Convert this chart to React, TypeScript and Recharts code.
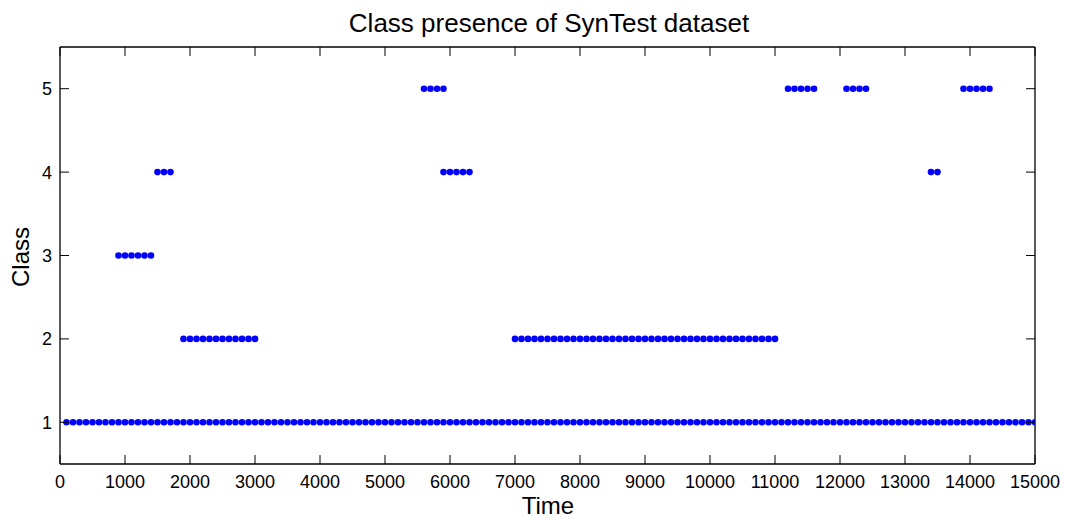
import React from 'react';
import { ScatterChart, Scatter, XAxis, YAxis } from 'recharts';

// Sample times (every 100 time units) at which each class is present
const class1Times = [
  100, 200, 300, 400, 500, 600, 700, 800, 900, 1000,
  1100, 1200, 1300, 1400, 1500, 1600, 1700, 1800, 1900, 2000,
  2100, 2200, 2300, 2400, 2500, 2600, 2700, 2800, 2900, 3000,
  3100, 3200, 3300, 3400, 3500, 3600, 3700, 3800, 3900, 4000,
  4100, 4200, 4300, 4400, 4500, 4600, 4700, 4800, 4900, 5000,
  5100, 5200, 5300, 5400, 5500, 5600, 5700, 5800, 5900, 6000,
  6100, 6200, 6300, 6400, 6500, 6600, 6700, 6800, 6900, 7000,
  7100, 7200, 7300, 7400, 7500, 7600, 7700, 7800, 7900, 8000,
  8100, 8200, 8300, 8400, 8500, 8600, 8700, 8800, 8900, 9000,
  9100, 9200, 9300, 9400, 9500, 9600, 9700, 9800, 9900, 10000,
  10100, 10200, 10300, 10400, 10500, 10600, 10700, 10800, 10900, 11000,
  11100, 11200, 11300, 11400, 11500, 11600, 11700, 11800, 11900, 12000,
  12100, 12200, 12300, 12400, 12500, 12600, 12700, 12800, 12900, 13000,
  13100, 13200, 13300, 13400, 13500, 13600, 13700, 13800, 13900, 14000,
  14100, 14200, 14300, 14400, 14500, 14600, 14700, 14800, 14900, 15000,
];
const class2Times = [
  1900, 2000, 2100, 2200, 2300, 2400, 2500, 2600, 2700, 2800, 2900, 3000,
  7000, 7100, 7200, 7300, 7400, 7500, 7600, 7700, 7800, 7900,
  8000, 8100, 8200, 8300, 8400, 8500, 8600, 8700, 8800, 8900,
  9000, 9100, 9200, 9300, 9400, 9500, 9600, 9700, 9800, 9900,
  10000, 10100, 10200, 10300, 10400, 10500, 10600, 10700, 10800, 10900, 11000,
];
const class3Times = [900, 1000, 1100, 1200, 1300, 1400];
const class4Times = [1500, 1600, 1700, 5900, 6000, 6100, 6200, 6300, 13400, 13500];
const class5Times = [
  5600, 5700, 5800, 5900,
  11200, 11300, 11400, 11500, 11600,
  12100, 12200, 12300, 12400,
  13900, 14000, 14100, 14200, 14300,
];

const classIds = [1, 2, 3, 4, 5];
const timeTicks = [0, 1000, 2000, 3000, 4000, 5000, 6000, 7000, 8000, 9000, 10000, 11000, 12000, 13000, 14000, 15000];

const title = 'Class presence of SynTest dataset';
const xLabel = 'Time';
const yLabel = 'Class';

const timesByClass = [class1Times, class2Times, class3Times, class4Times, class5Times];
const points = timesByClass.flatMap((times, i) =>
  times.map((t) => ({ time: t, cls: classIds[i] }))
);

const FONT = '"Liberation Sans", Arial, Helvetica, sans-serif';
const W = 1066;
const H = 519;
const TICK = 9;

const BottomTick = (props: any) => {
  const { x, y, payload } = props;
  return (
    <g>
      <line x1={x} x2={x} y1={y} y2={y - TICK} stroke="#000" strokeWidth={1} />
      <text x={x} y={y + 24} textAnchor="middle" fontSize={18} fontFamily={FONT} fill="#000">
        {payload.value}
      </text>
    </g>
  );
};

const TopTick = (props: any) => {
  const { x, y } = props;
  return <line x1={x} x2={x} y1={y} y2={y + TICK} stroke="#000" strokeWidth={1} />;
};

const LeftTick = (props: any) => {
  const { x, y, payload } = props;
  return (
    <g>
      <line x1={x} x2={x + TICK} y1={y} y2={y} stroke="#000" strokeWidth={1} />
      <text x={x - 8} y={y + 6.5} textAnchor="end" fontSize={18} fontFamily={FONT} fill="#000">
        {payload.value}
      </text>
    </g>
  );
};

const RightTick = (props: any) => {
  const { x, y } = props;
  return <line x1={x} x2={x - TICK} y1={y} y2={y} stroke="#000" strokeWidth={1} />;
};

const Dot = (props: any) => {
  const { cx, cy } = props;
  return <circle cx={cx} cy={cy} r={3.3} fill="#0000ff" />;
};

export default function App() {
  return (
    <div style={{ position: 'absolute', left: 0, top: 0, width: W, height: H, background: '#fff' }}>
      <ScatterChart width={W} height={H} margin={{ top: 0, right: 0, bottom: 0, left: 0 }}>
        <XAxis
          xAxisId="b"
          dataKey="time"
          type="number"
          orientation="bottom"
          domain={[0, 15000]}
          ticks={timeTicks}
          height={55}
          tickSize={0}
          tickMargin={0}
          tickLine={false}
          axisLine={{ stroke: '#000', strokeWidth: 1.3 }}
          tick={<BottomTick />}
          interval={0}
          allowDataOverflow
        />
        <XAxis
          xAxisId="t"
          dataKey="time"
          type="number"
          orientation="top"
          domain={[0, 15000]}
          ticks={timeTicks}
          height={47}
          tickSize={0}
          tickMargin={0}
          tickLine={false}
          axisLine={{ stroke: '#000', strokeWidth: 1.3 }}
          tick={<TopTick />}
          interval={0}
          allowDataOverflow
        />
        <YAxis
          yAxisId="l"
          dataKey="cls"
          type="number"
          orientation="left"
          domain={[0.5, 5.5]}
          ticks={classIds}
          width={60}
          tickSize={0}
          tickMargin={0}
          tickLine={false}
          axisLine={{ stroke: '#000', strokeWidth: 1.3 }}
          tick={<LeftTick />}
          interval={0}
          allowDataOverflow
        />
        <YAxis
          yAxisId="r"
          dataKey="cls"
          type="number"
          orientation="right"
          domain={[0.5, 5.5]}
          ticks={classIds}
          width={31}
          tickSize={0}
          tickMargin={0}
          tickLine={false}
          axisLine={{ stroke: '#000', strokeWidth: 1.3 }}
          tick={<RightTick />}
          interval={0}
          allowDataOverflow
        />
        <Scatter
          data={points}
          xAxisId="b"
          yAxisId="l"
          shape={<Dot />}
          isAnimationActive={false}
        />
      </ScatterChart>
      <svg
        width={W}
        height={H}
        style={{ position: 'absolute', left: 0, top: 0, pointerEvents: 'none' }}
      >
        <text x={549} y={32} textAnchor="middle" fontSize={26} fontFamily={FONT} fill="#000">
          {title}
        </text>
        <text x={548} y={514} textAnchor="middle" fontSize={24} fontFamily={FONT} fill="#000">
          {xLabel}
        </text>
        <text
          x={0}
          y={0}
          transform="translate(28.5 257) rotate(-90)"
          textAnchor="middle"
          fontSize={24}
          fontFamily={FONT}
          fill="#000"
        >
          {yLabel}
        </text>
      </svg>
    </div>
  );
}
